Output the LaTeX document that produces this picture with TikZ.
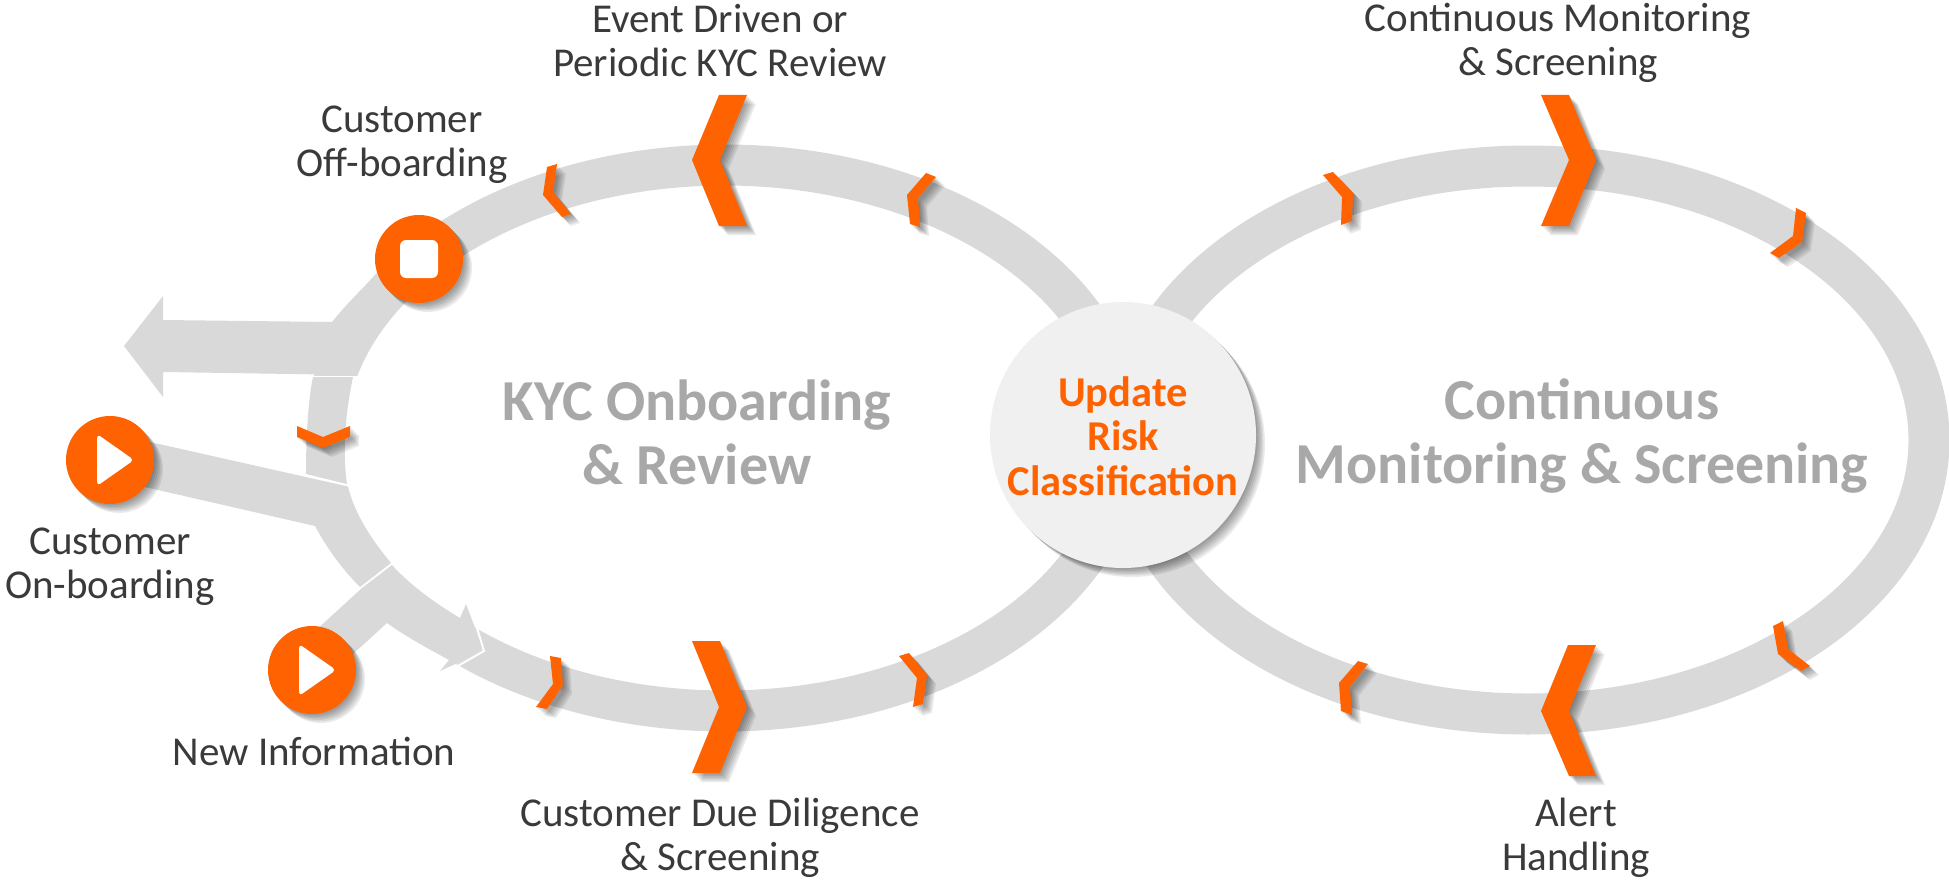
\documentclass[tikz,border=0pt]{standalone}
\usepackage{fontspec}
\setmainfont{Carlito}
\definecolor{ingorange}{HTML}{FF6200}
\definecolor{bandgray}{HTML}{D9D9D9}
\definecolor{labelgray}{HTML}{3A3A3A}
\definecolor{titlegray}{HTML}{A8A8A8}
\definecolor{hubgray}{HTML}{F0F0F0}
\newcommand\softshadow[1]{\foreach \off in {1.5,3,4.5,6,7.5,9} {\fill[black,opacity=.08,shift={(\off,\off)}] #1;}}
\newcommand\chev[1]{\softshadow{#1}\fill[ingorange] #1;}
\tikzset{
  x=1pt,y=-1pt,
  steplabel/.style={text=labelgray,align=center,font=\fontsize{41}{44}\selectfont,inner sep=0pt},
  ringtitle/.style={text=titlegray,align=center,font=\fontsize{58}{64}\selectfont\bfseries,inner sep=0pt},
  hubtext/.style={text=ingorange,align=center,font=\fontsize{42.5}{44.5}\selectfont\bfseries,inner sep=0pt},
  bandline/.style={draw=bandgray,line width=41pt,line cap=butt,line join=round},
  bandfill/.style={fill=bandgray},
  dot/.style={circle,fill=ingorange,minimum size=88pt,inner sep=0pt},
  hub/.style={circle,fill=hubgray,minimum size=266pt,inner sep=0pt},
  icon/.style={fill=white,rounded corners=4pt}
}
\begin{document}
\begin{tikzpicture}
\useasboundingbox (0,0) rectangle (1949,880);
% right ring
\draw[bandline] (1528,440) ellipse [x radius=401,y radius=274];
% left ring: upper part and exit arrow
\begin{scope}
\clip (0,0) rectangle (1300,375);
\draw[bandline] plot[domain=185:365,samples=140] ({725+400*cos(\x)},{438+273*sin(\x)});
\end{scope}
\fill[bandfill] (124,346) -- (163,296) -- (163,320) -- (332,322) .. controls (345,306) and (360,290) .. (380,272) -- (403,302) .. controls (380,320) and (365,345) .. (355,375) -- (163,372) -- (163,397) -- cycle;
% left ring: segment beneath the exit arrow
\fill[bandfill] (313,377) .. controls (309,395) and (306,430) .. (306,474) -- (347,484) .. controls (343,455) and (344,420) .. (353,377) -- cycle;
% onboarding branch
\fill[bandfill] (110,433) -- (348,486.5) .. controls (355,515) and (372,540) .. (391,563) -- (360,587) .. controls (343,570) and (328,550) .. (315,526) -- (110,479) -- cycle;
% new information branch and arrow
\fill[bandfill] (392,565) .. controls (410,585) and (435,603) .. (460,618) -- (466,604) -- (484,651) -- (440,671) -- (449,660) .. controls (427,648) and (405,636) .. (387,623) -- (330,675) -- (290,654) -- (362,588) -- cycle;
% left ring: lower part
\begin{scope}
\clip (466,604) -- (484,651) -- (440,671) -- (440,800) -- (1300,800) -- (1300,438) -- (466,438) -- cycle;
\draw[bandline] plot[domain=145:-5,samples=140] ({725+400*cos(\x)},{438+273*sin(\x)});
\end{scope}
\draw[white,line width=2pt] (477,628) -- (484,651) -- (456,667);
% chevrons on the left ring
\chev{(692,160) -- (719,95) -- (747,95) -- (720,160) -- (747,226) -- (719,226) -- cycle}
\chev{(926,173) -- (936,177) -- (918,198) -- (920,227) -- (910,224) -- (907,195) -- cycle}
\chev{(547,167) -- (557,164) -- (553,192) -- (571,214) -- (562,217) -- (543,195) -- cycle}
\chev{(297,426) -- (323,437) -- (350,426) -- (350,437) -- (323,448) -- (297,437) -- cycle}
\chev{(550,656) -- (561,658) -- (563,685) -- (547,709) -- (536,707) -- (553,684) -- cycle}
\chev{(692,641) -- (720,641) -- (747,707) -- (720,773) -- (692,773) -- (719,707) -- cycle}
\chev{(899,656) -- (909,653) -- (927,675) -- (923,704) -- (913,707) -- (917,678) -- cycle}
% chevrons on the right ring
\chev{(1541,95) -- (1569,95) -- (1596,160) -- (1569,226) -- (1541,226) -- (1569,160) -- cycle}
\chev{(1323,175) -- (1333,172) -- (1353,193) -- (1352,221) -- (1341,225) -- (1342,197) -- cycle}
\chev{(1796,208) -- (1806,213) -- (1802,242) -- (1779,258) -- (1770,253) -- (1793,236) -- cycle}
\chev{(1568,645) -- (1596,645) -- (1569,711) -- (1596,776) -- (1569,776) -- (1541,711) -- cycle}
\chev{(1358,661) -- (1368,664) -- (1350,687) -- (1352,715) -- (1341,711) -- (1339,683) -- cycle}
\chev{(1773,626) -- (1783,621) -- (1788,649) -- (1810,666) -- (1801,671) -- (1778,654) -- cycle}
% round markers
\softshadow{(419,259) circle [radius=44]}
\node[dot] (offdot) at (419,259) {};
\fill[white,rounded corners=6pt] (400,240) rectangle (438,278);
\softshadow{(110,460) circle [radius=44]}
\node[dot] (ondot) at (110,460) {};
\fill[icon] (97,434) -- (134,460) -- (97,486) -- cycle;
\softshadow{(312,670) circle [radius=44]}
\node[dot] (newdot) at (312,670) {};
\fill[icon] (299,644) -- (336,670) -- (299,696) -- cycle;
% hub
\softshadow{(1123,435) circle [radius=133]}
\node[hub] (hubnode) at (1123,435) {};
\node[hubtext] (hublabel) at (1123,436) {Update\\Risk\\Classification};
% labels
\node[steplabel] (review) at (720,41) {Event Driven or\\Periodic KYC Review};
\node[steplabel] (off) at (402,145) {Customer\\Off-boarding};
\node[steplabel] (on) at (110,567) {Customer\\On-boarding};
\node[steplabel] (newinfo) at (314,751) {New Information};
\node[steplabel] (cdd) at (720,838) {Customer Due Diligence\\\& Screening};
\node[steplabel] (cms) at (1558,43) {Continuous Monitoring\\\& Screening};
\node[steplabel] (alert) at (1576,838) {Alert\\Handling};
\node[ringtitle] (kyc) at (697,432) {KYC Onboarding\\\& Review};
\node[ringtitle] (cont) at (1582,436) {Continuous\\Monitoring \& Screening};
\end{tikzpicture}
\end{document}
